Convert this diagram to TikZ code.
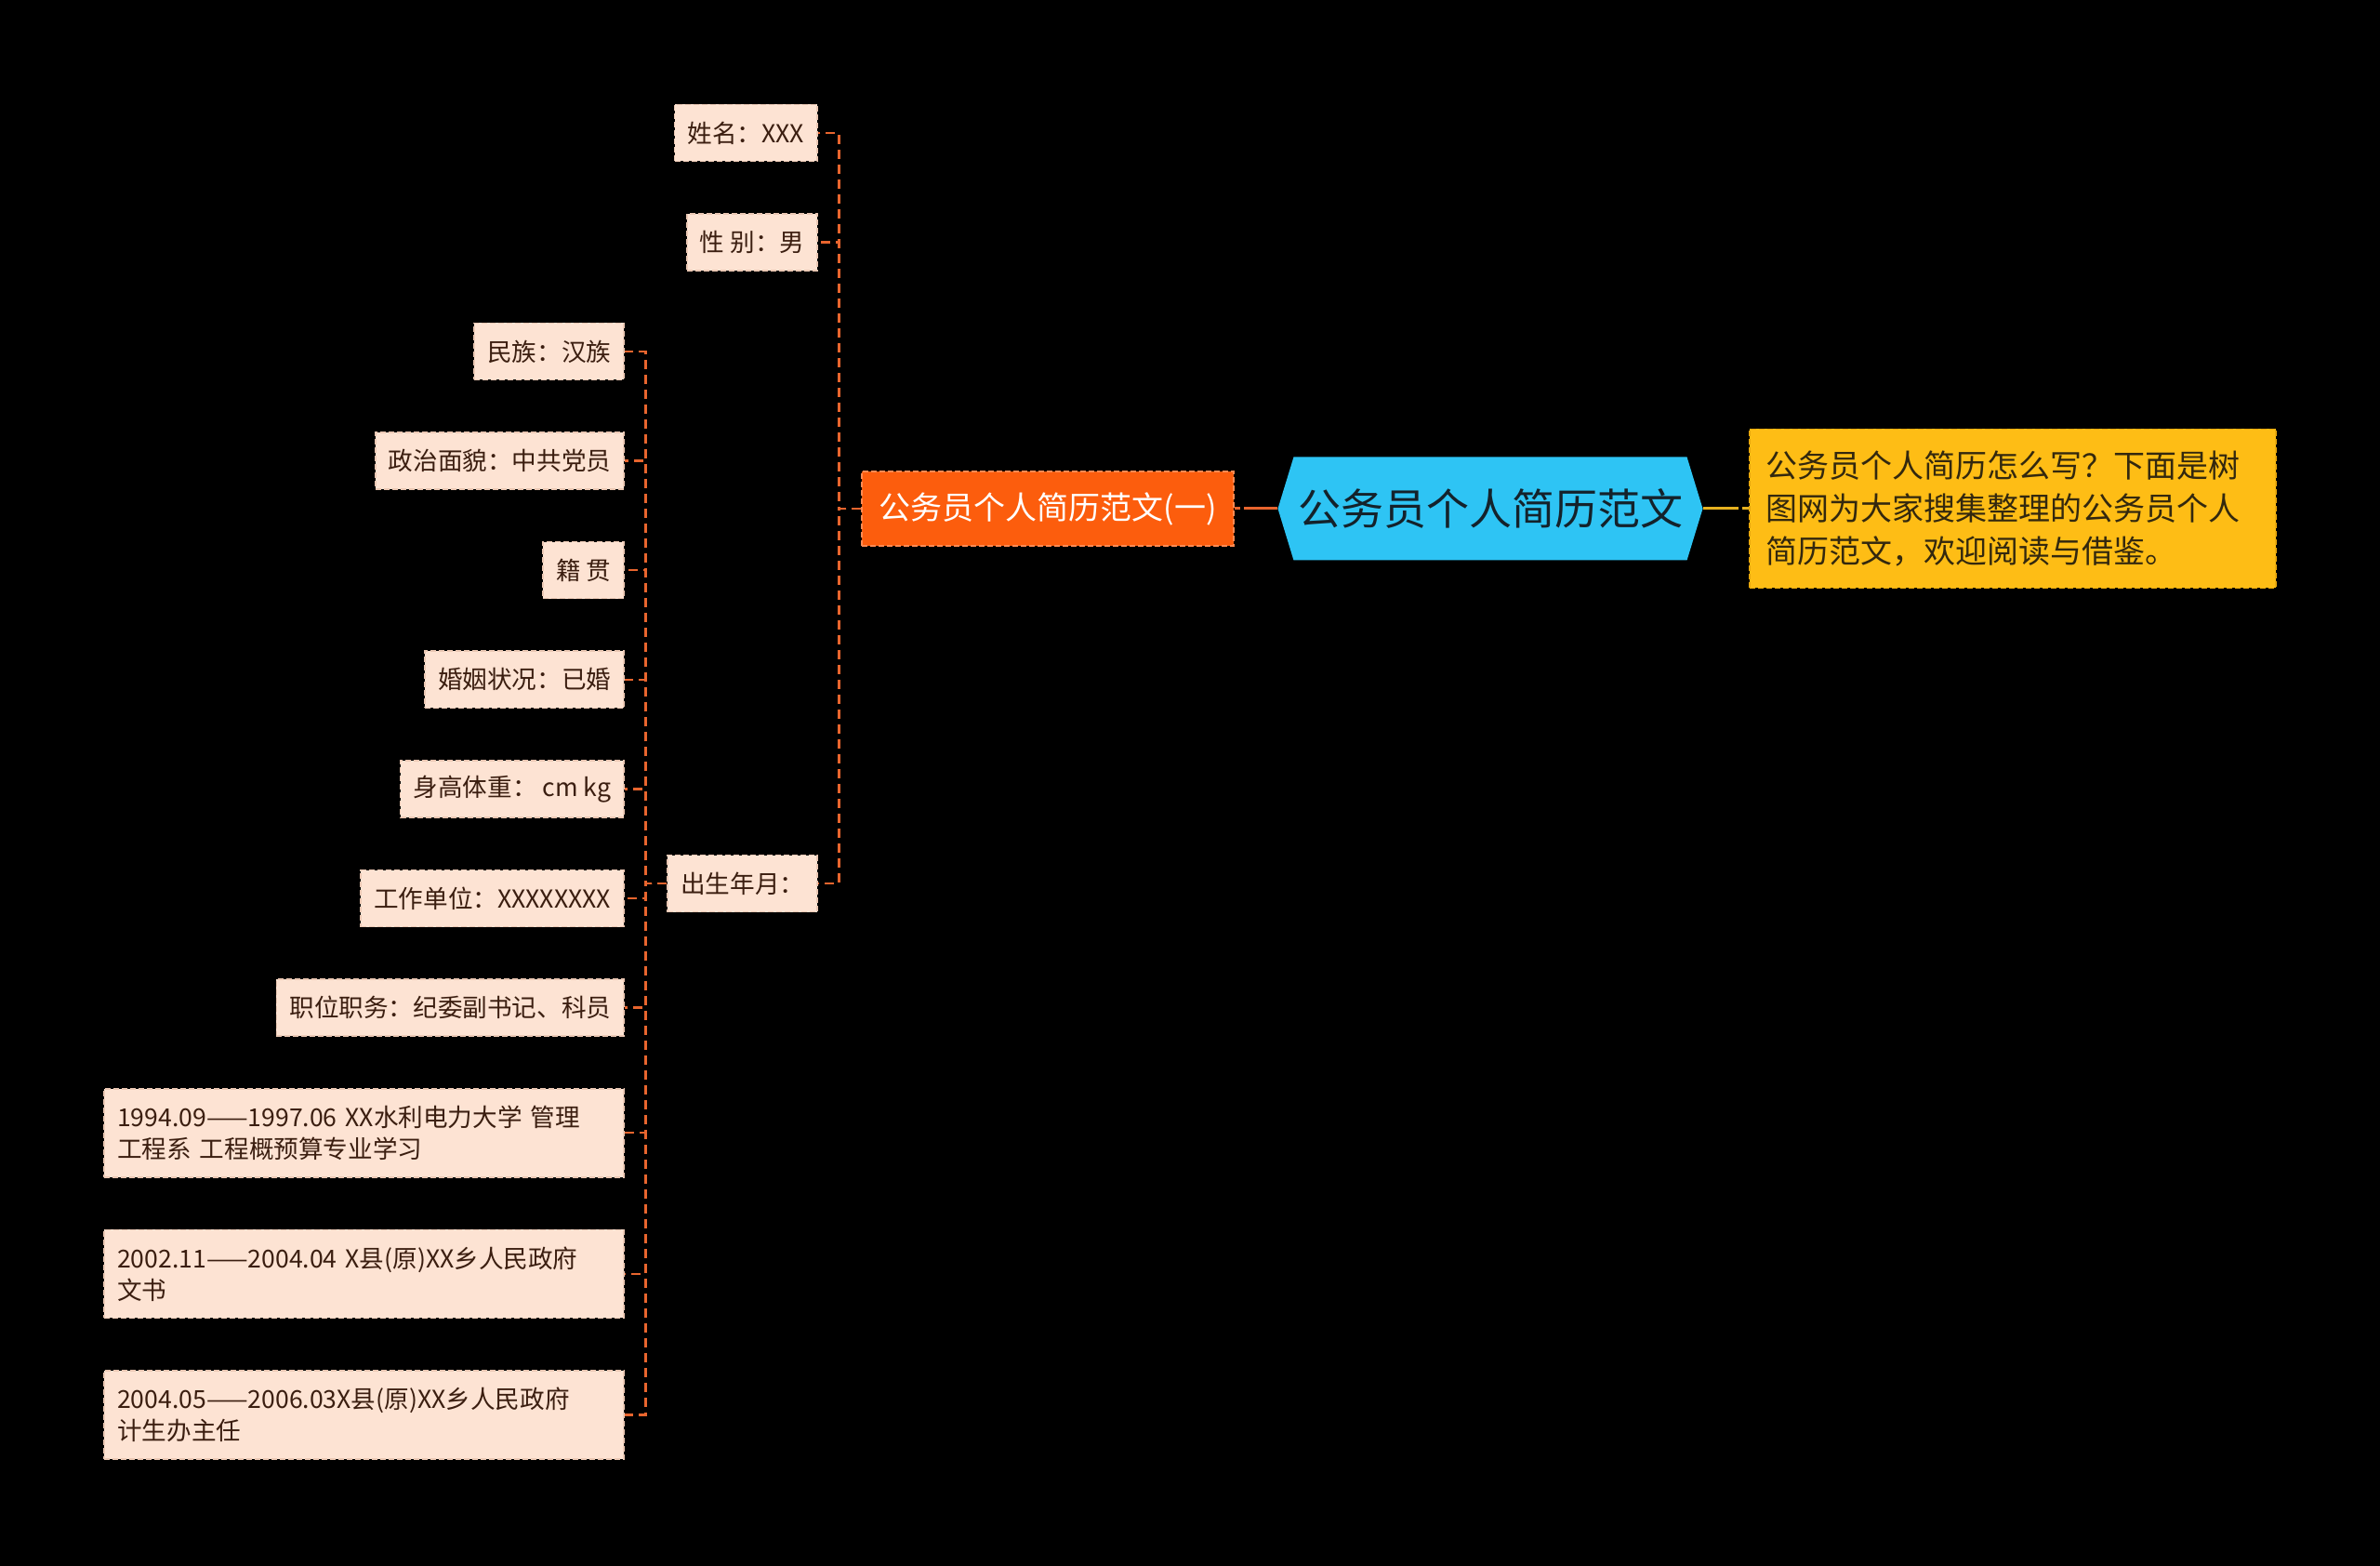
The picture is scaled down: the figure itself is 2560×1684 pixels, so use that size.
\documentclass[tikz,border=0pt]{standalone}
\usepackage{fontspec}
\setmainfont{Noto Sans CJK SC}
\usepackage{xcolor}
\usepackage{tikz}
\usetikzlibrary{positioning,
shapes.symbols}

\definecolor{hubblue}{HTML}{2EC4F4}
\definecolor{hubtext}{HTML}{14222B}
\definecolor{deptorange}{HTML}{FC5D0D}
\definecolor{deptedge}{HTML}{FF8A52}
\definecolor{introgold}{HTML}{FEBD15}
\definecolor{introedge}{HTML}{E9A80C}
\definecolor{introtext}{HTML}{33280E}
\definecolor{leafpeach}{HTML}{FDE3D3}
\definecolor{leafedge}{HTML}{EBC8B4}
\definecolor{leaftext}{HTML}{3B1E10}
\definecolor{linkorange}{HTML}{E8652E}
\definecolor{linkgold}{HTML}{E6B11F}

\begin{document}
\begin{tikzpicture}[
    x=0.5pt, y=-0.5pt,
    node distance=27.5pt,
    hub/.style={
        shape=signal,
        signal to=west and east,
        signal pointer angle=146,
        fill=hubblue,
        text=hubtext,
        minimum width=228.5pt,
        minimum height=55.5pt,
        inner xsep=0pt,
        font=\fontsize{23pt}{27pt}\selectfont
    },
    dept/.style={
        draw=deptedge,
        dash pattern=on 3pt off 1.5pt,
        line width=0.8pt,
        fill=deptorange,
        text=white,
        inner xsep=9pt,
        minimum width=200pt,
        minimum height=40pt,
        font=\fontsize{17pt}{20pt}\selectfont
    },
    intro/.style={
        draw=introedge,
        dash pattern=on 3pt off 1.5pt,
        line width=0.8pt,
        fill=introgold,
        text=introtext,
        align=left,
        text width=265pt,
        inner xsep=9pt,
        minimum height=85.5pt,
        font=\fontsize{17pt}{23pt}\selectfont
    },
    leaf/.style={
        draw=leafedge,
        dash pattern=on 3pt off 1.5pt,
        line width=0.8pt,
        fill=leafpeach,
        text=leaftext,
        align=left,
        inner xsep=7pt,
        inner ysep=8pt,
        minimum height=30.5pt,
        font=\fontsize{13.3pt}{17pt}\selectfont
    },
    longleaf/.style={
        leaf,
        text width=265.5pt,
        minimum height=47.5pt
    },
    link/.style={
        draw=linkorange,
        line width=1.2pt,
        dash pattern=on 5pt off 3pt
    }
]

\fill[black] (0,0) rectangle (2560,1684);
\useasboundingbox (0,0) rectangle (2560,1684);

\node[hub] (hub) at (1603,547) {公务员个人简历范文};

\node[dept, left=23pt of hub] (resume) {公务员个人简历范文(一)};

\node[intro, right=24.5pt of hub] (intro) {公务员个人简历怎么写？下面是树\\图网为大家搜集整理的公务员个人\\简历范文，欢迎阅读与借鉴。};

\node[leaf, anchor=east] (name) at (880,143) {姓名：XXX};
\node[leaf, below=of name.south east, anchor=north east] (sex) {性 别：男};
\node[leaf, anchor=east] (birth) at (880,950) {出生年月：};

\node[leaf, anchor=east] (ethnic) at (672,378) {民族：汉族};
\node[leaf, below=of ethnic.south east, anchor=north east] (party) {政治面貌：中共党员};
\node[leaf, below=of party.south east, anchor=north east] (origin) {籍 贯};
\node[leaf, below=of origin.south east, anchor=north east] (marriage) {婚姻状况：已婚};
\node[leaf, below=of marriage.south east, anchor=north east] (body) {身高体重： cm kg};
\node[leaf, below=of body.south east, anchor=north east] (work) {工作单位：XXXXXXXX};
\node[leaf, below=of work.south east, anchor=north east] (post) {职位职务：纪委副书记、科员};
\node[longleaf, below=of post.south east, anchor=north east] (study) {1994.09——1997.06 XX水利电力大学 管理\\工程系 工程概预算专业学习};
\node[longleaf, below=of study.south east, anchor=north east] (clerk) {2002.11——2004.04 X县(原)XX乡人民政府\\文书};
\node[longleaf, below=of clerk.south east, anchor=north east] (planning) {2004.05——2006.03X县(原)XX乡人民政府\\计生办主任};

\draw[draw=linkorange, line width=1.5pt, dash pattern=on 18pt off 2pt on 3pt off 0pt] (hub.west) -- (resume.east);
\draw[draw=linkgold, line width=1.5pt, dash pattern=on 19pt off 2pt on 3pt off 0pt] (hub.east) -- (intro.west);

\draw[link] (resume.west) -- ++(-12pt,0pt) |- (name.east);
\draw[link] (resume.west) -- ++(-12pt,0pt) |- (sex.east);
\draw[link] (resume.west) -- ++(-12pt,0pt) |- (birth.east);

\draw[link] (birth.west) -- ++(-11.5pt,0pt) |- (ethnic.east);
\draw[link] (birth.west) -- ++(-11.5pt,0pt) |- (party.east);
\draw[link] (birth.west) -- ++(-11.5pt,0pt) |- (origin.east);
\draw[link] (birth.west) -- ++(-11.5pt,0pt) |- (marriage.east);
\draw[link] (birth.west) -- ++(-11.5pt,0pt) |- (body.east);
\draw[link] (birth.west) -- ++(-11.5pt,0pt) |- (work.east);
\draw[link] (birth.west) -- ++(-11.5pt,0pt) |- (post.east);
\draw[link] (birth.west) -- ++(-11.5pt,0pt) |- (study.east);
\draw[link] (birth.west) -- ++(-11.5pt,0pt) |- (clerk.east);
\draw[link] (birth.west) -- ++(-11.5pt,0pt) |- (planning.east);

\end{tikzpicture}
\end{document}
